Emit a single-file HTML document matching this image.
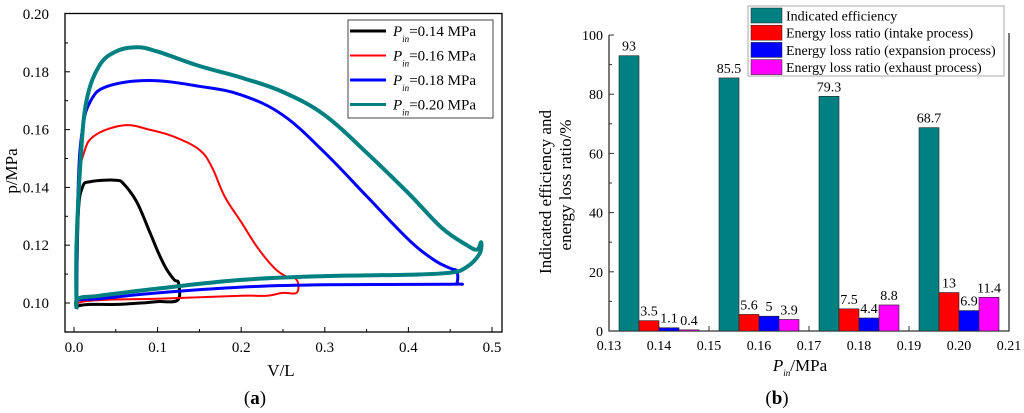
<!DOCTYPE html>
<html><head><meta charset="utf-8"><style>
body{margin:0;background:#fff;}
svg{display:block;font-family:"Liberation Serif",serif;}
</style></head><body>
<svg id="s" width="1024" height="413" viewBox="0 0 1024 413">
<g id="a"></g>
<g id="b"></g>
</svg>
<script>
// ---------- Chart (a) data ----------
const pvSeriesNames = ["0.14","0.16","0.18","0.20"];
const pvColors = ["#000000","#ff0000","#0000ff","#008080"];
const pvWidths = [3,2,3,4];
const pvV014 = [0.003,0.005,0.01,0.02,0.05,0.06,0.075,0.09,0.1,0.11,0.12,0.125,0.124,0.1,0.08,0.05,0.02,0.005,0.003];
const pvP014 = [0.098,0.13,0.14,0.142,0.1425,0.141,0.135,0.125,0.118,0.112,0.108,0.107,0.101,0.1005,0.1,0.0995,0.0995,0.099,0.098];
const pvV016 = [0.003,0.006,0.012,0.025,0.06,0.09,0.12,0.15,0.165,0.18,0.2,0.22,0.24,0.255,0.262,0.268,0.266,0.25,0.23,0.2,0.1,0.03,0.005,0.003];
const pvP016 = [0.098,0.14,0.152,0.158,0.1615,0.16,0.1575,0.153,0.147,0.137,0.128,0.119,0.112,0.109,0.109,0.107,0.1035,0.1035,0.1025,0.1025,0.1015,0.101,0.1,0.098];
const pvV018 = [0.003,0.005,0.01,0.02,0.04,0.09,0.15,0.2,0.25,0.3,0.35,0.4,0.43,0.45,0.458,0.458,0.45,0.3,0.2,0.1,0.03,0.005,0.003];
const pvP018 = [0.098,0.14,0.16,0.17,0.175,0.177,0.175,0.172,0.165,0.152,0.137,0.122,0.115,0.112,0.111,0.107,0.1065,0.1063,0.1055,0.1035,0.1015,0.101,0.098];
const pvV020 = [0.003,0.003,0.008,0.015,0.03,0.05,0.075,0.1,0.15,0.2,0.25,0.3,0.35,0.4,0.44,0.47,0.482,0.487,0.485,0.47,0.45,0.4,0.3,0.2,0.1,0.03,0.005,0.003];
const pvP020 = [0.098,0.12,0.15,0.17,0.182,0.187,0.1885,0.187,0.182,0.178,0.173,0.165,0.152,0.138,0.126,0.12,0.1185,0.121,0.117,0.1125,0.1105,0.1098,0.1093,0.108,0.105,0.1025,0.1015,0.098];
const pvXTicks = [0.0,0.1,0.2,0.3,0.4,0.5];
const pvYTicks = [0.10,0.12,0.14,0.16,0.18,0.20];

// ---------- Chart (b) data ----------
const barCategories = [0.14,0.16,0.18,0.20];
const barSeriesNames = ["Indicated efficiency","Energy loss ratio (intake process)","Energy loss ratio (expansion process)","Energy loss ratio (exhaust process)"];
const barColors = ["#008080","#ff0000","#0000ff","#ff00ff"];
const indicatedEff = [93,85.5,79.3,68.7];
const intakeLoss = [3.5,5.6,7.5,13];
const expansionLoss = [1.1,5,4.4,6.9];
const exhaustLoss = [0.4,3.9,8.8,11.4];
const barXTicks = [0.13,0.14,0.15,0.16,0.17,0.18,0.19,0.20,0.21];
const barYTicks = [0,20,40,60,80,100];

const NS="http://www.w3.org/2000/svg";
function mk(p,tag,at,txt){const e=document.createElementNS(NS,tag);for(const k in at)e.setAttribute(k,at[k]);if(txt!==undefined)e.textContent=txt;p.appendChild(e);return e;}
function smooth(pts){let d='M'+pts[0][0].toFixed(1)+','+pts[0][1].toFixed(1);
 for(let i=0;i<pts.length-1;i++){const p0=pts[i-1]||pts[i],p1=pts[i],p2=pts[i+1],p3=pts[i+2]||p2;const t=0.18;
  const c1=[p1[0]+(p2[0]-p0[0])*t,p1[1]+(p2[1]-p0[1])*t],c2=[p2[0]-(p3[0]-p1[0])*t,p2[1]-(p3[1]-p1[1])*t];
  d+=' C'+c1.map(v=>v.toFixed(1))+' '+c2.map(v=>v.toFixed(1))+' '+p2.map(v=>v.toFixed(1));}
 return d;}

// ---------- draw (a) ----------
const A=document.getElementById('a');
const ax=v=>74+v*836, ay=p=>303-(p-0.10)*2890;
let e=mk(A,'rect',{x:65,y:13.5,width:437,height:318.5,fill:'none',stroke:'#000','stroke-width':1.3});

for(let i=0;i<=10;i++){const v=i*0.05;const x=ax(v);
 e=mk(A,'line',{x1:x,x2:x,y1:332,y2:332-(i%2?3:5),stroke:'#000'});}
pvXTicks.forEach(v=>{e=mk(A,'text',{x:ax(v),y:352,'font-size':15,'text-anchor':'middle'},v.toFixed(1));});
for(let i=0;i<=10;i++){const p=0.09+i*0.01;const y=ay(p);
 e=mk(A,'line',{x1:65,x2:65+(i%2?5:3),y1:y,y2:y,stroke:'#000'});}
pvYTicks.forEach(p=>{e=mk(A,'text',{x:49,y:ay(p)+5,'font-size':15,'text-anchor':'end'},p.toFixed(2));});
e=mk(A,'text',{x:281,y:376,'font-size':17,'text-anchor':'middle'},'V/L');
e=mk(A,'text',{x:0,y:0,'font-size':17,'text-anchor':'middle',transform:'translate(17,171) rotate(-90)'},'p/MPa');
e=mk(A,'text',{x:255,y:404,'font-size':19,'text-anchor':'middle'});e.innerHTML='(<tspan font-weight="bold">a</tspan>)';
const pvV=[pvV014,pvV016,pvV018,pvV020], pvP=[pvP014,pvP016,pvP018,pvP020];
pvV.forEach((vs,s)=>{const pts=vs.map((v,i)=>[ax(v),ay(pvP[s][i])]);
 e=mk(A,'path',{d:smooth(pts),fill:'none',stroke:pvColors[s],'stroke-width':pvWidths[s],'stroke-linejoin':'round'});
 });
e=mk(A,'rect',{x:348,y:20,width:145,height:98,fill:'#fff',stroke:'#444','stroke-width':1});
pvSeriesNames.forEach((n,i)=>{const y=31+i*24.5;
 e=mk(A,'line',{x1:350,x2:386,y1:y,y2:y,stroke:pvColors[i],'stroke-width':pvWidths[i]>2?3:2});
 e=mk(A,'text',{x:393,y:y+5,'font-size':15});e.innerHTML='<tspan font-style="italic">P</tspan><tspan font-size="9" font-style="italic" dy="6">in</tspan><tspan dy="-6">='+n+' MPa</tspan>';
 });

// ---------- draw (b) ----------
const B=document.getElementById('b');
const bx=v=>609+(v-0.13)*5000, by=v=>331-v*2.96;
e=mk(B,'path',{d:'M609,35 V331 H1009 V33',fill:'none',stroke:'#333','stroke-width':1.3});
barXTicks.forEach(v=>{const x=bx(v);
 e=mk(B,'line',{x1:x,x2:x,y1:331,y2:326,stroke:'#333'});
 e=mk(B,'text',{x:x,y:350,'font-size':14,'text-anchor':'middle'},v.toFixed(2));});
for(let i=0;i<=10;i++){const y=by(i*10);
 e=mk(B,'line',{x1:609,x2:609+(i%2?3:5),y1:y,y2:y,stroke:'#333'});}
barYTicks.forEach(v=>{e=mk(B,'text',{x:603,y:by(v)+5,'font-size':14,'text-anchor':'end'},String(v));});
const barSeries=[indicatedEff,intakeLoss,expansionLoss,exhaustLoss];
const bw=20;
barCategories.forEach((c,ci)=>{barSeries.forEach((ser,si)=>{const x=bx(c)-2*bw+si*bw;const v=ser[ci];
 e=mk(B,'rect',{x:x,y:by(v),width:bw,height:by(0)-by(v),fill:barColors[si],stroke:'#222','stroke-width':0.6});
 
 e=mk(B,'text',{x:x+bw/2,y:by(v)-5,'font-size':14,'text-anchor':'middle'},String(v));
 });});
e=mk(B,'text',{x:800,y:371,'font-size':17,'text-anchor':'middle'});e.innerHTML='<tspan font-style="italic">P</tspan><tspan font-size="9" font-style="italic" dy="5">in</tspan><tspan dy="-5">/MPa</tspan>';

e=mk(B,'text',{x:0,y:0,'font-size':17,'text-anchor':'middle',transform:'translate(551,192) rotate(-90)'},'Indicated efficiency and');
e=mk(B,'text',{x:0,y:0,'font-size':17,'text-anchor':'middle',transform:'translate(571,185) rotate(-90)'},'energy loss ratio/%');
e=mk(B,'text',{x:777,y:404,'font-size':19,'text-anchor':'middle'});e.innerHTML='(<tspan font-weight="bold">b</tspan>)';
e=mk(B,'rect',{x:748,y:6,width:256,height:70,fill:'#fff',stroke:'#aaa','stroke-width':1});
barSeriesNames.forEach((n,i)=>{const y=8+i*17.2;
 e=mk(B,'rect',{x:751,y:y,width:31,height:15,fill:barColors[i],stroke:'#222','stroke-width':0.5});
 e=mk(B,'text',{x:786,y:y+12.5,'font-size':14},n);});
</script>
</body></html>
